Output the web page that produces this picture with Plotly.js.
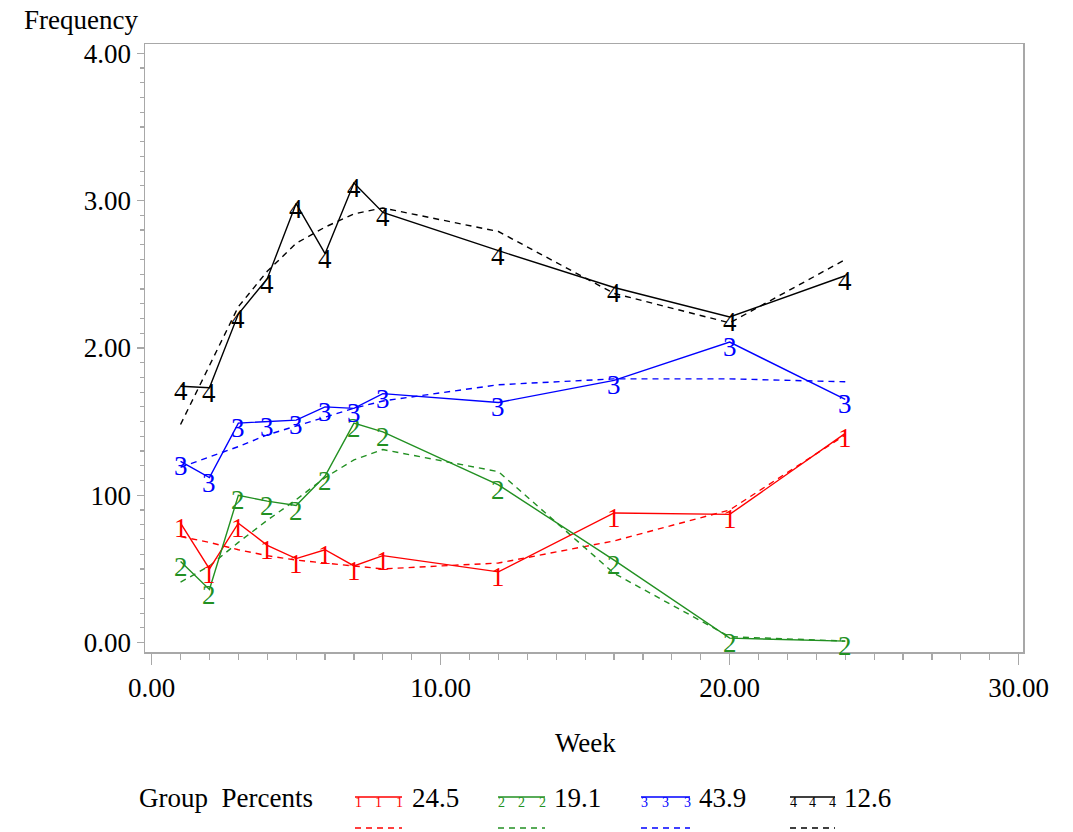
<!DOCTYPE html>
<html>
<head>
<meta charset="utf-8">
<script src="https://cdn.plot.ly/plotly-3.0.1.min.js"></script>
<style>html,body{margin:0;padding:0;background:#fff;}#chart{width:1073px;height:832px;}</style>
</head>
<body>
<div id="chart"></div>
<script>
// ---- data ----
const weeks = [1, 2, 3, 4, 5, 6, 7, 8, 12, 16, 20, 24];
const groupNames = ["1", "2", "3", "4"];
const groupPercents = ["24.5", "19.1", "43.9", "12.6"];
const obs1 = [0.81, 0.50, 0.81, 0.66, 0.57, 0.63, 0.52, 0.59, 0.48, 0.88, 0.87, 1.42];
const fit1 = [0.72, 0.68, 0.63, 0.59, 0.56, 0.54, 0.52, 0.50, 0.54, 0.69, 0.90, 1.41];
const obs2 = [0.55, 0.36, 1.00, 0.96, 0.93, 1.13, 1.49, 1.43, 1.07, 0.56, 0.03, 0.01];
const fit2 = [0.41, 0.52, 0.68, 0.83, 0.97, 1.12, 1.24, 1.31, 1.16, 0.47, 0.04, 0.01];
const obs3 = [1.23, 1.12, 1.49, 1.50, 1.51, 1.60, 1.59, 1.69, 1.63, 1.78, 2.04, 1.65];
const fit3 = [1.19, 1.26, 1.33, 1.41, 1.47, 1.53, 1.59, 1.64, 1.75, 1.79, 1.79, 1.77];
const obs4 = [1.74, 1.73, 2.23, 2.47, 2.98, 2.64, 3.12, 2.92, 2.66, 2.41, 2.21, 2.49];
const fit4 = [1.48, 1.88, 2.28, 2.52, 2.71, 2.82, 2.91, 2.95, 2.79, 2.37, 2.17, 2.60];
const xTickVals = [0, 10, 20, 30];
const xTickText = ["0.00", "10.00", "20.00", "30.00"];
const yTickVals = [0, 1, 2, 3, 4];
const yTickText = ["0.00", "100", "2.00", "3.00", "4.00"];

const colors = ["#ff0000", "#229022", "#0000ff", "#000000"];
const observed = [obs1, obs2, obs3, obs4];
const fitted = [fit1, fit2, fit3, fit4];

const FONT = "Liberation Serif, DejaVu Serif, serif";

const traces = [];
for (let g = 0; g < 4; g++) {
  traces.push({
    x: weeks, y: fitted[g], mode: "lines", type: "scatter",
    line: {color: colors[g], width: 1.4, dash: "6px,5px"},
    hoverinfo: "skip", showlegend: false
  });
}
for (let g = 0; g < 4; g++) {
  traces.push({
    x: weeks, y: observed[g], mode: "lines", type: "scatter",
    line: {color: colors[g], width: 1.4},
    hoverinfo: "skip", showlegend: false
  });
}

// plot-area geometry (pixels)
const L = 145, R = 1023, T = 44, B = 652;
const W = R - L, H = B - T;
const px = p => (p - L) / W;
const py = p => (B - p) / H;

const annotations = [];
// plot symbols: group numbers drawn at each observed point (hanging slightly below the point, as in SAS)
for (let g = 0; g < 4; g++) {
  weeks.forEach((w, i) => {
    annotations.push({text: groupNames[g], xref: "x", yref: "y", x: w, y: observed[g][i],
      xanchor: "center", yanchor: "middle", yshift: -5, showarrow: false, borderpad: 0,
      font: {family: FONT, size: 27, color: colors[g]}});
  });
}
annotations.push(
  {text: "Frequency", xref: "paper", yref: "paper", x: px(22), y: py(20), xanchor: "left", yanchor: "middle", showarrow: false, font: {family: FONT, size: 27, color: "#000"}},
  {text: "Week", xref: "paper", yref: "paper", x: px(585), y: py(743), xanchor: "center", yanchor: "middle", showarrow: false, font: {family: FONT, size: 27, color: "#000"}},
  {text: "Group&nbsp;&nbsp;Percents", xref: "paper", yref: "paper", x: px(137), y: py(798), xanchor: "left", yanchor: "middle", showarrow: false, font: {family: FONT, size: 27, color: "#000"}}
);
const shapes = [];
const legX = [[355, 402, 410], [498, 545, 552], [641, 690, 697], [790, 835, 842]];
for (let g = 0; g < 4; g++) {
  const [a, b, t] = legX[g];
  shapes.push({type: "line", xref: "paper", yref: "paper", x0: px(a), x1: px(b), y0: py(797), y1: py(797), line: {color: colors[g], width: 1.4}});
  shapes.push({type: "line", xref: "paper", yref: "paper", x0: px(a), x1: px(b), y0: py(828), y1: py(828), line: {color: colors[g], width: 1.4, dash: "6px,5px"}});
  [a + 3, (a + b) / 2, b - 3].forEach(m => {
    annotations.push({text: groupNames[g], xref: "paper", yref: "paper", x: px(m), y: py(802), xanchor: "center", yanchor: "middle", showarrow: false, borderpad: 0, font: {family: FONT, size: 14, color: colors[g]}});
  });
  annotations.push({text: groupPercents[g], xref: "paper", yref: "paper", x: px(t), y: py(798), xanchor: "left", yanchor: "middle", showarrow: false, font: {family: FONT, size: 27, color: "#000"}});
}

const axisColor = "#a8a8a8";
const layout = {
  width: 1073, height: 832,
  paper_bgcolor: "#fff", plot_bgcolor: "#fff",
  margin: {l: L, r: 1073 - R, t: T, b: 832 - B},
  showlegend: false,
  font: {family: FONT, size: 27, color: "#000"},
  xaxis: {
    range: [-0.23, 30.15], showgrid: false, zeroline: false,
    showline: true, linecolor: axisColor, linewidth: 1.5, mirror: true,
    ticks: "outside", ticklen: 11, tickcolor: axisColor, tickwidth: 1.5,
    tickvals: xTickVals, ticktext: xTickText,
    tickfont: {family: FONT, size: 27, color: "#000"},
    minor: {dtick: 1, ticks: "outside", ticklen: 6, tickcolor: axisColor, tickwidth: 1.2, showgrid: false}
  },
  yaxis: {
    range: [-0.064, 4.063], showgrid: false, zeroline: false,
    showline: true, linecolor: axisColor, linewidth: 1.5, mirror: true,
    ticks: "outside", ticklen: 7, tickcolor: axisColor, tickwidth: 1.5,
    tickvals: yTickVals, ticktext: yTickText,
    tickfont: {family: FONT, size: 27, color: "#000"},
    minor: {dtick: 0.1, ticks: "outside", ticklen: 4, tickcolor: axisColor, tickwidth: 1.2, showgrid: false}
  },
  annotations: annotations,
  shapes: shapes
};

Plotly.newPlot("chart", traces, layout, {displayModeBar: false, staticPlot: true});
</script>
</body>
</html>
